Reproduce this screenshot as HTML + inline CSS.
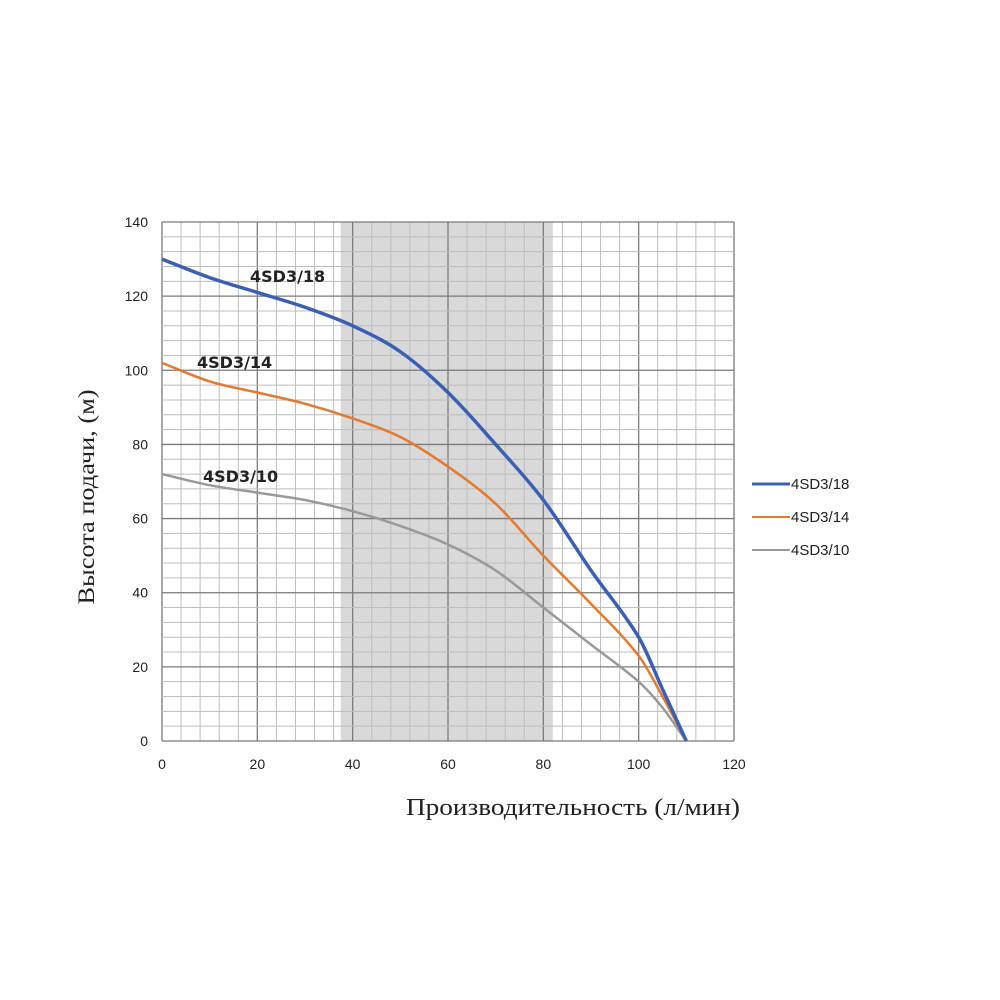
<!DOCTYPE html>
<html><head><meta charset="utf-8"><style>
body{margin:0;background:#fff}
svg{display:block}
</style></head><body>
<svg width="1000" height="1000" viewBox="0 0 1000 1000">
<g id="plot"></g>
<g id="lbl"></g>
<text x="573" y="815" text-anchor="middle" font-family="Liberation Serif, serif" font-size="24" fill="#222" textLength="334" lengthAdjust="spacingAndGlyphs">Производительность (л/мин)</text>
<text transform="translate(94,497) rotate(-90)" text-anchor="middle" font-family="Liberation Serif, serif" font-size="23" fill="#222" textLength="215" lengthAdjust="spacingAndGlyphs">Высота подачи, (м)</text>
<g font-family="Liberation Sans, sans-serif" font-size="15" fill="#222">
<line x1="752" y1="484" x2="790" y2="484" stroke="#3a5fb5" stroke-width="3"/>
<text x="791" y="489">4SD3/18</text>
<line x1="752" y1="517" x2="790" y2="517" stroke="#e57a2e" stroke-width="2"/>
<text x="791" y="522">4SD3/14</text>
<line x1="752" y1="550" x2="790" y2="550" stroke="#999" stroke-width="2"/>
<text x="791" y="555">4SD3/10</text>
</g>
</svg>
<script>
const xs = [0,10,20,30,40,50,60,70,80,90,100,105,110];
const s18 = [130,125,121,117,112,105,94,80,65,46,28,14,0];
const s14 = [102,97,94,91,87,82,74,64,50,37,23,12,0];
const s10 = [72,69,67,65,62,58,53,46,36,26,16,9,0];
const xTicks = [0,20,40,60,80,100,120];
const yTicks = [0,20,40,60,80,100,120,140];
const band = [37.5,82];
const X0=162,X1=734,Y0=741,Y1=222;
const sx=v=>X0+(v/120)*(X1-X0);
const sy=v=>Y0-(v/140)*(Y0-Y1);
const NS="http://www.w3.org/2000/svg";
const plot=document.getElementById('plot'), lbl=document.getElementById('lbl');
function mk(tag,attrs,parent){const e=document.createElementNS(NS,tag);for(const k in attrs)e.setAttribute(k,attrs[k]);parent.appendChild(e);return e;}
const bandEl=mk('rect',{x:sx(band[0]),y:Y1,width:sx(band[1])-sx(band[0]),height:Y0-Y1,fill:'#d9d9d9'},plot);


for(let v=0;v<=120;v+=4){const l=mk('line',{x1:sx(v),x2:sx(v),y1:Y1,y2:Y0,stroke:v%20?'#bdbdbd':'#7a7a7a','stroke-width':v%20?1:1.3},plot);

}
for(let v=0;v<=140;v+=4){const l=mk('line',{x1:X0,x2:X1,y1:sy(v),y2:sy(v),stroke:v%20?'#bdbdbd':'#7a7a7a','stroke-width':v%20?1:1.3},plot);

}
xTicks.forEach(t=>{const e=mk('text',{x:sx(t),y:769,'text-anchor':'middle','font-family':'Liberation Sans, sans-serif','font-size':14,fill:'#222'},lbl);e.textContent=t;

});
yTicks.forEach(t=>{const e=mk('text',{x:148,y:sy(t)+5,'text-anchor':'end','font-family':'Liberation Sans, sans-serif','font-size':14,fill:'#222'},lbl);e.textContent=t;

});
function path(vals){let pts=xs.map((x,i)=>[sx(x),sy(vals[i])]);let d='M'+pts[0];
const n=pts.length;const m=pts.map((p,i)=>{const a=pts[Math.max(0,i-1)],b=pts[Math.min(n-1,i+1)];return (b[1]-a[1])/(b[0]-a[0]);});
for(let i=0;i<n-1;i++){const p1=pts[i],p2=pts[i+1],h=(p2[0]-p1[0])/3;
d+=' C'+(p1[0]+h)+','+(p1[1]+m[i]*h)+' '+(p2[0]-h)+','+(p2[1]-m[i+1]*h)+' '+p2;}return d;}
[[s10,'#999',2.5,'curve-4sd3-10'],[s14,'#e57a2e',2.5,'curve-4sd3-14'],[s18,'#3a5fb5',3.5,'curve-4sd3-18']].forEach(([v,c,w,n])=>{
const p=mk('path',{d:path(v),fill:'none',stroke:c,'stroke-width':w},plot);

});
[['4SD3/18',250,282],['4SD3/14',197,368],['4SD3/10',203,482]].forEach(([t,x,y])=>{
const e=mk('text',{x:x,y:y,'font-family':'DejaVu Sans, sans-serif','font-size':16,'font-weight':'600',fill:'#222'},plot);e.textContent=t;

});
</script>
</body></html>
